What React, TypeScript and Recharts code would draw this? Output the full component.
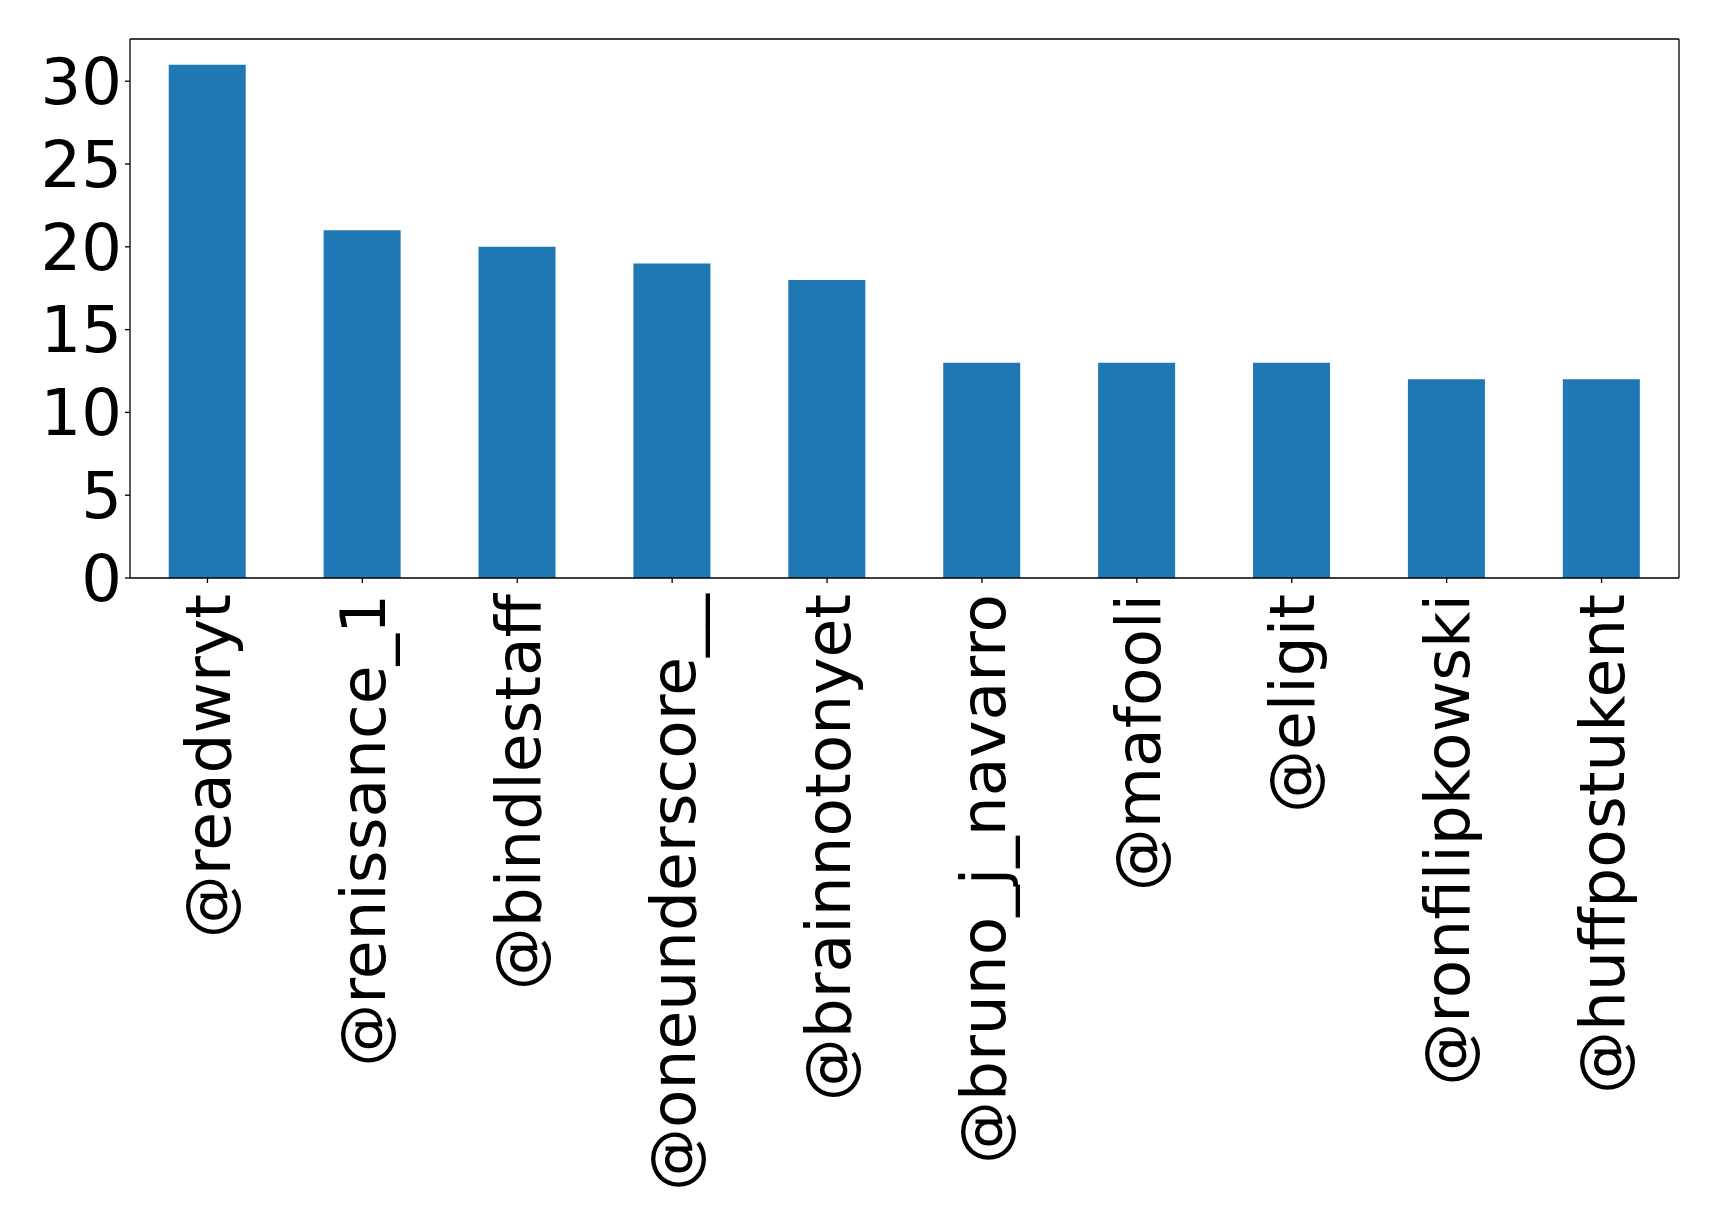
import { BarChart, Bar, XAxis, YAxis, CartesianGrid } from "recharts"

const users = [
  "@readwryt",
  "@renissance_1",
  "@bindlestaff",
  "@oneunderscore__",
  "@brainnotonyet",
  "@bruno_j_navarro",
  "@mafooli",
  "@eligit",
  "@ronfilipkowski",
  "@huffpostukent",
]
const counts = [31, 21, 20, 19, 18, 13, 13, 13, 12, 12]
const yTicks = [0, 5, 10, 15, 20, 25, 30]

const data = users.map((name, i) => ({ name, count: counts[i] }))

const FONT = "DejaVu Sans"

function RotatedTick(props: any) {
  const { x, y, payload } = props
  return (
    <text
      x={x}
      y={y + 9}
      transform={`rotate(-90, ${x}, ${y + 9})`}
      textAnchor="end"
      dy="0.36em"
      fontFamily={FONT}
      fontSize={63}
      fill="#000"
    >
      {payload.value}
    </text>
  )
}

export default function App() {
  return (
    <div style={{ position: "absolute", left: 0, top: 0, background: "#fff" }}>
      <BarChart
        width={1719}
        height={1220}
        data={data}
        margin={{ top: 39, right: 40, left: 0, bottom: 0 }}
        barCategoryGap="25%"
      >
        {/* top and right spines */}
        <CartesianGrid
          stroke="#000"
          strokeWidth={1.3}
          horizontalCoordinatesGenerator={({ offset }: any) => [offset.top]}
          verticalCoordinatesGenerator={({ offset }: any) => [offset.left + offset.width]}
        />
        <XAxis
          dataKey="name"
          interval={0}
          height={642}
          tick={<RotatedTick />}
          tickSize={5}
          axisLine={{ stroke: "#000", strokeWidth: 1.3 }}
          tickLine={{ stroke: "#000", strokeWidth: 1.3 }}
        />
        <YAxis
          type="number"
          domain={[0, 32.55]}
          ticks={yTicks}
          width={130}
          tickSize={5}
          tickMargin={3}
          allowDataOverflow
          tick={{ fontFamily: FONT, fontSize: 64, fill: "#000" }}
          axisLine={{ stroke: "#000", strokeWidth: 1.3 }}
          tickLine={{ stroke: "#000", strokeWidth: 1.3 }}
        />
        <Bar dataKey="count" fill="#1f77b4" isAnimationActive={false} />
      </BarChart>
    </div>
  )
}
